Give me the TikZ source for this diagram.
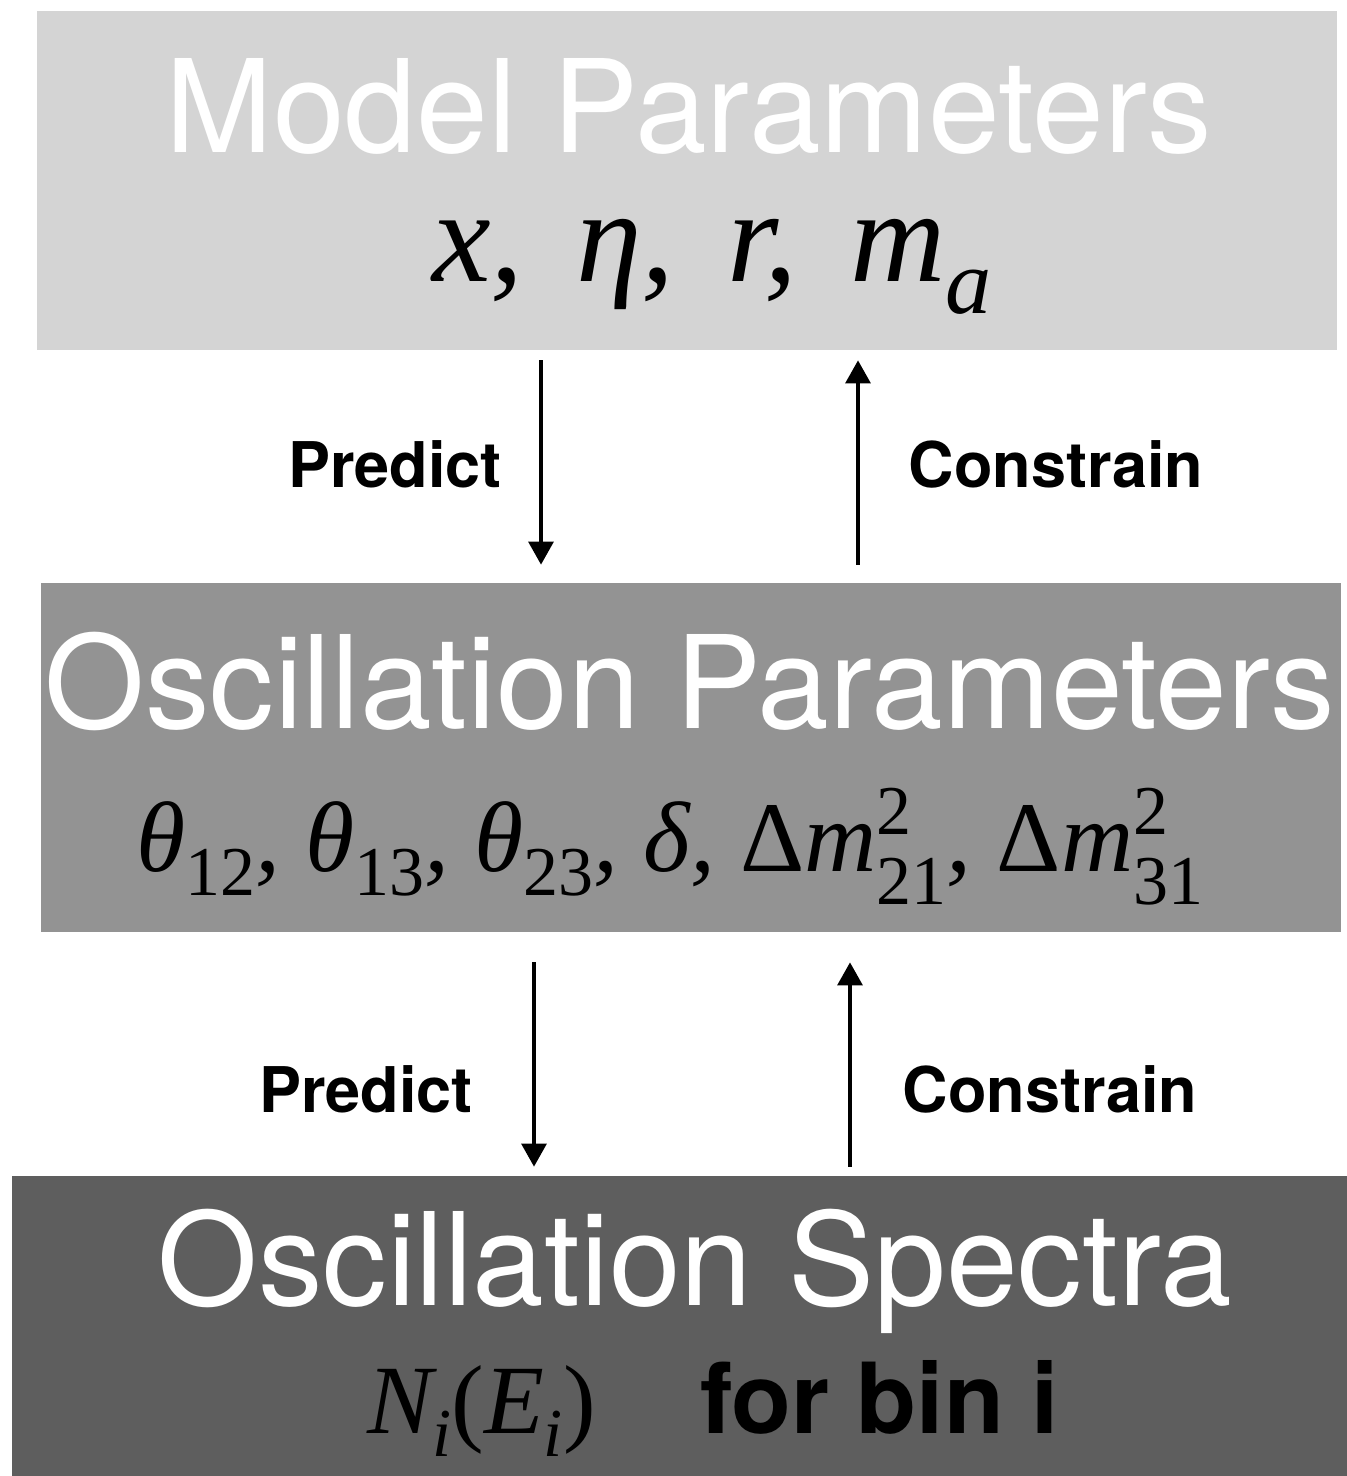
\documentclass[tikz,border=0pt]{standalone}
\usepackage{fontspec}
\setsansfont{TeX Gyre Heros}
\newfontfamily\timesfont{Liberation Serif}
\usetikzlibrary{arrows.meta}

\definecolor{boxlight}{HTML}{D4D4D4}
\definecolor{boxmid}{HTML}{939393}
\definecolor{boxdark}{HTML}{5E5E5E}

% indices in text, scaled from the surrounding size
\makeatletter
\newcommand{\idxfont}{\fontsize{\fpeval{0.7*\f@size}}{0}\selectfont}
\makeatother
\newcommand{\lowidx}[1]{\raisebox{-0.24em}{\idxfont #1}}
\newcommand{\bothidx}[2]{\rlap{\raisebox{0.37em}{\idxfont #1}}\raisebox{-0.33em}{\idxfont #2}}
\newcommand{\gap}{\ \hspace{0.15em}}

\tikzset{
  stage/.style={rectangle, inner sep=0pt, minimum width=650pt},
  title/.style={anchor=base, text=white, font=\sffamily\fontsize{64.5}{64}\selectfont},
  params/.style={anchor=base, font=\timesfont\itshape\fontsize{50}{50}\selectfont},
  verb/.style={anchor=base, font=\sffamily\bfseries\fontsize{31.5}{32}\selectfont},
  flow/.style={line width=1.6pt, -{Triangle[width=12.5pt,length=11.5pt]}},
}

\begin{document}
\begin{tikzpicture}[x=0.5pt, y=-0.5pt]
\useasboundingbox (0,0) rectangle (1347,1476);

% the three stages
\node[stage, fill=boxlight, minimum height=169.5pt] (model) at (687,180.5) {};
\node[stage, fill=boxmid, minimum height=174.5pt] (osc) at (691,757.5) {};
\node[stage, fill=boxdark, minimum width=667.5pt, minimum height=152pt] (spec) at (679.5,1328) {};

\node[title] (modeltitle) at (689,153) {Model Parameters};
\node[params, font=\timesfont\itshape\fontsize{66}{66}\selectfont] (modelpar) at (712,282) {x,\gap η,\gap r,\gap m\lowidx{a}};

\node[title] (osctitle) at (690,728) {Oscillation Parameters};
\node[params] (oscpar) at (670,871) {θ\lowidx{\upshape 12}, θ\lowidx{\upshape 13}, θ\lowidx{\upshape 23}, δ, {\upshape Δ}m\bothidx{\upshape 2}{\upshape 21}, {\upshape Δ}m\bothidx{\upshape 2}{\upshape 31}};

\node[title] (spectitle) at (695,1305) {Oscillation Spectra};
\node[params, anchor=base west, font=\timesfont\itshape\fontsize{49}{49}\selectfont] (specpar) at (360,1433) {N\lowidx{i}{\upshape(}E\lowidx{i}{\upshape)}};
\node[anchor=base west, font=\sffamily\bfseries\fontsize{49}{49}\selectfont] (specbin) at (693,1433) {for bin i};

% arrows between stages
\draw[flow] ([xshift=-73pt,yshift=-5pt]model.south) -- ([xshift=-75pt,yshift=9pt]osc.north);
\draw[flow] ([xshift=83.5pt,yshift=9pt]osc.north) -- ([xshift=85.5pt,yshift=-5pt]model.south);
\draw[flow] ([xshift=-78.5pt,yshift=-15pt]osc.south) -- ([xshift=-72.75pt,yshift=4.5pt]spec.north);
\draw[flow] ([xshift=85.25pt,yshift=4.5pt]spec.north) -- ([xshift=79.5pt,yshift=-15pt]osc.south);

\node[verb] (predictA) at (395,487) {Predict};
\node[verb] (constrainA) at (1056,487) {Constrain};
\node[verb] (predictB) at (366,1112) {Predict};
\node[verb] (constrainB) at (1050,1112) {Constrain};
\end{tikzpicture}
\end{document}
